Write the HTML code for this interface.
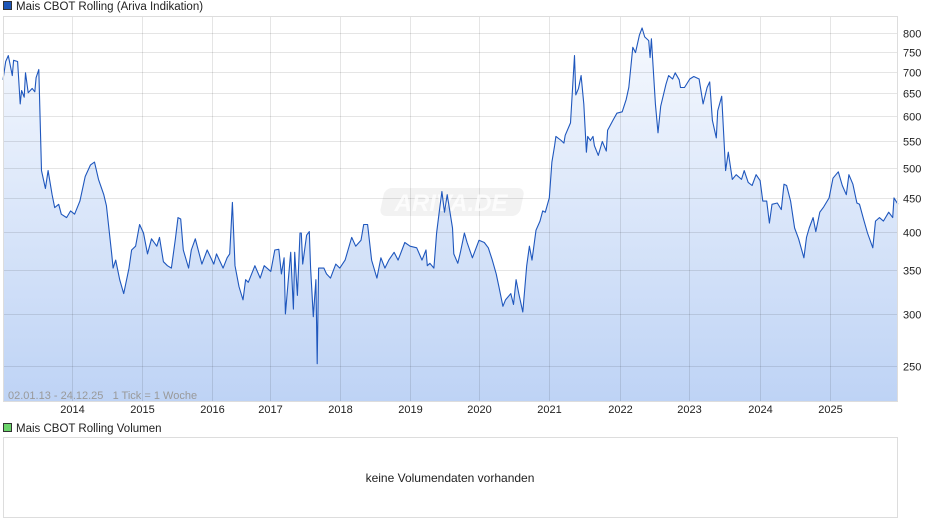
<!DOCTYPE html>
<html><head><meta charset="utf-8"><style>
body{margin:0;background:#fff;width:940px;height:526px;overflow:hidden;font-family:"Liberation Sans",sans-serif}
text{white-space:pre}
</style></head><body>
<svg id="chart" width="940" height="526" xmlns="http://www.w3.org/2000/svg" font-family="Liberation Sans, sans-serif">
<defs><linearGradient id="fillg" x1="0" y1="0" x2="0" y2="1"><stop offset="0" stop-color="#f6f9fe"/><stop offset="1" stop-color="#bed3f5"/></linearGradient></defs>
<rect x="3.5" y="1.5" width="8" height="8" fill="#1d56b8" stroke="#333" stroke-width="1"/>
<text x="16" y="10" font-size="11.5" fill="#222">Mais CBOT Rolling (Ariva Indikation)</text>
<g id="plot"></g>
<rect x="3.5" y="423.5" width="8" height="8" fill="#6ad46a" stroke="#333" stroke-width="1"/>
<text x="16" y="432" font-size="11.5" fill="#222">Mais CBOT Rolling Volumen</text>
<rect x="3.5" y="437.5" width="894" height="80" fill="#fff" stroke="#ddd"/>
<text x="450" y="482" font-size="12" fill="#222" text-anchor="middle">keine Volumendaten vorhanden</text>
</svg>
<script>
const weeks=[0,2,4,7,8,11,13,14,16,17,19,22,24,25,27,29,32,34,37,39,42,44,48,51,54,58,62,66,69,72,76,78,82,83,85,88,91,95,97,100,103,106,109,112,116,118,121,124,127,130,132,134,136,140,142,145,150,154,159,161,166,169,171,173,175,178,181,183,185,190,194,197,202,205,208,210,212,213,215,217,219,220,222,224,225,226,229,231,232,234,236,237,238,242,244,247,251,254,258,263,266,270,272,275,278,282,285,288,291,295,298,303,307,312,316,319,320,322,325,327,329,331,333,335,339,340,343,345,348,350,354,359,363,366,369,372,374,377,379,383,385,387,389,392,395,397,399,402,405,407,409,412,414,416,417,421,423,424,428,431,432,434,436,438,440,441,443,445,446,449,452,455,456,460,463,467,470,472,475,477,480,482,484,487,488,489,492,494,496,500,502,505,507,510,511,514,518,521,525,528,531,533,535,538,539,542,545,547,550,553,557,559,562,565,568,571,573,576,578,580,584,587,589,591,594,597,600,604,606,608,611,613,616,619,623,626,630,633,636,638,641,644,646,649,652,656,658,661,664,668,671,672,675];
const prices=[680,725,740,690,728,725,625,655,640,697,650,660,652,685,705,495,465,495,455,435,440,425,420,430,425,445,485,505,510,480,455,438,370,352,362,338,322,352,375,380,410,398,370,390,380,392,360,355,352,390,420,418,375,352,375,390,357,375,357,370,352,365,370,443,355,330,315,338,335,355,340,355,348,375,376,345,365,300,335,372,305,372,320,398,398,357,395,400,352,297,338,252,352,352,345,340,357,352,362,392,380,388,410,410,362,340,365,352,362,372,362,385,380,378,362,375,355,358,352,398,428,460,428,455,405,370,358,372,398,385,365,388,385,378,362,345,330,308,315,322,310,338,322,302,355,380,362,402,415,430,428,450,510,540,558,550,545,560,585,740,645,660,690,625,528,558,550,558,540,522,548,530,570,590,605,608,635,662,762,748,795,815,790,780,735,785,625,565,620,670,690,682,697,680,662,662,682,688,682,625,662,675,590,555,610,642,495,528,480,488,480,495,475,470,488,478,445,445,412,440,442,432,472,470,445,405,390,365,392,405,420,400,428,436,450,482,493,470,455,488,472,442,440,418,398,378,415,420,415,428,420,450,440];
const yTicks=[250,300,350,400,450,500,550,600,650,700,750,800];
const xTickWeeks=[52,105,158,201,254,307,359,412,465,517,571,624];
const xTickLabels=["2014","2015","2016","2017","2018","2019","2020","2021","2022","2023","2024","2025"];
const L=3,T=16,R=898,B=401,NW=675;
function xs(w){return L+w*(R-L)/NW;}
function ys(p){return 366-286*Math.log(p/250);}
const NS="http://www.w3.org/2000/svg";
const g=document.getElementById('plot');
function mk(t,a){const e=document.createElementNS(NS,t);for(const k in a)e.setAttribute(k,a[k]);g.appendChild(e);return e;}
const bg=mk('rect',{x:L,y:T,width:R-L,height:B-T,fill:'#fff'});


let pts=weeks.map((w,i)=>xs(w).toFixed(1)+','+ys(prices[i]).toFixed(1));
const area=mk('path',{d:'M'+xs(weeks[0])+','+B+' L'+pts.join(' L')+' L'+xs(weeks[weeks.length-1])+','+B+' Z',fill:'url(#fillg)'});


yTicks.forEach(v=>{
 const y=Math.round(ys(v))+0.5;
 const l=mk('line',{x1:L,x2:R,y1:y,y2:y,stroke:'rgba(0,0,0,0.1)','stroke-width':1});
 
 
 const t=mk('text',{x:903,y:y+4,'font-size':11,fill:'#222'});t.textContent=v;
 
 
});
xTickWeeks.forEach((w,i)=>{
 const x=Math.round(xs(w))+0.5;
 const l=mk('line',{x1:x,x2:x,y1:T,y2:B,stroke:'rgba(0,0,0,0.1)','stroke-width':1});
 
 
 const t=mk('text',{x:x,y:413,'font-size':11,fill:'#222','text-anchor':'middle'});t.textContent=xTickLabels[i];
 
 
});
const wm=mk('rect',{x:383,y:188,width:140,height:28,rx:7,fill:'rgba(0,0,0,0.05)',transform:'skewX(-12) translate(42,0)'});


const wt=mk('text',{x:451,y:211,'font-size':24,'font-style':'italic','font-weight':'bold',fill:'rgba(255,255,255,0.75)','text-anchor':'middle'});wt.textContent='ARIVA.DE';


const line=mk('polyline',{points:pts.join(' '),fill:'none',stroke:'#1f57bd','stroke-width':1.1,'stroke-linejoin':'round'});


const border=mk('rect',{x:L+0.5,y:T+0.5,width:R-L-1,height:B-T,fill:'none',stroke:'#ddd'});


const dr=mk('text',{x:8,y:399,'font-size':11,fill:'#999'});dr.textContent='02.01.13 - 24.12.25   1 Tick = 1 Woche';


</script>
</body></html>
